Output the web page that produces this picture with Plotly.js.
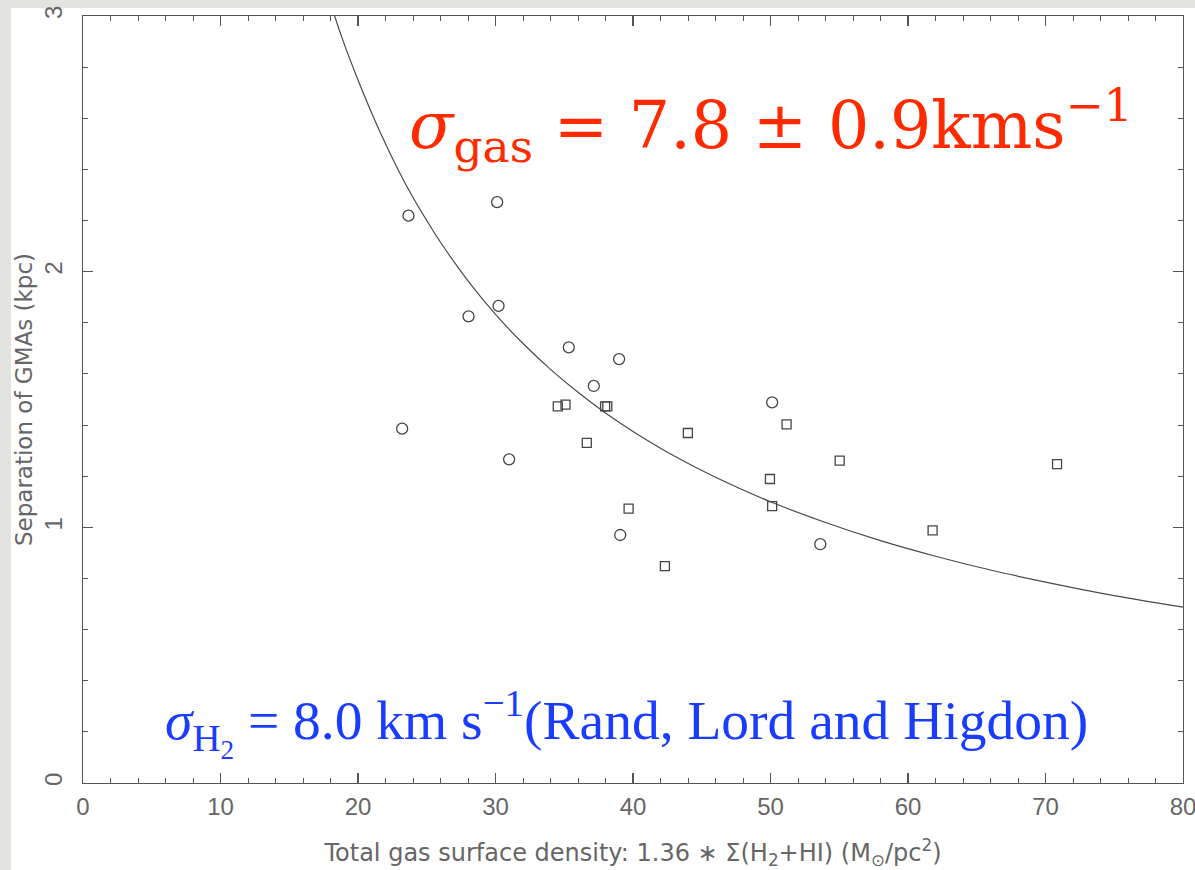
<!DOCTYPE html>
<html>
<head>
<meta charset="utf-8">
<script src="https://cdn.plot.ly/plotly-3.0.1.min.js"></script>
<style>
  html, body { margin: 0; padding: 0; width: 1195px; height: 870px; overflow: hidden; background: #e3e3df; }
  #panel { position: absolute; left: 11px; top: 8px; width: 1184px; height: 862px; background: #ffffff; }
  #chart { position: absolute; left: 11px; top: 0px; width: 1184px; height: 870px; }
</style>
</head>
<body>
<div id="panel"></div>
<div id="chart"></div>
<script>
// Open circles
const circleX = [23.67, 30.12, 28.04, 30.22, 35.33, 38.99, 37.15, 23.21, 30.99, 50.12, 39.07, 53.62];
const circleY = [2.219, 2.272, 1.825, 1.866, 1.704, 1.658, 1.553, 1.386, 1.266, 1.489, 0.970, 0.934];
// Open squares
const squareX = [34.53, 35.09, 37.97, 38.13, 43.99, 36.64, 39.68, 42.32, 51.17, 55.03, 49.96, 50.12, 61.79, 70.84];
const squareY = [1.473, 1.480, 1.473, 1.473, 1.369, 1.330, 1.073, 0.848, 1.403, 1.261, 1.189, 1.083, 0.988, 1.247];
// Fitted curve
const curveX = [17.8, 18.3, 19, 20, 21, 22, 23, 24, 25, 26, 28, 30, 32, 34, 36, 38, 40, 43, 46, 50, 54, 58, 62, 66, 70, 75, 80];
const curveY = [3.09, 3.00, 2.89, 2.75, 2.62, 2.50, 2.39, 2.29, 2.20, 2.115, 1.964, 1.833, 1.719, 1.618, 1.528, 1.447, 1.375, 1.279, 1.196, 1.100, 1.019, 0.948, 0.887, 0.833, 0.786, 0.733, 0.688];

const xTickVals = [0, 10, 20, 30, 40, 50, 60, 70, 80];
const yTickVals = [0, 1, 2, 3];

const axisColor = '#555555';
const tickFont = { family: 'Liberation Sans, Arial, sans-serif', size: 24, color: '#666666' };

const traces = [
  {
    x: curveX, y: curveY, type: 'scatter', mode: 'lines',
    line: { color: '#4a4a4a', width: 1.2, shape: 'spline' },
    hoverinfo: 'skip', showlegend: false
  },
  {
    x: circleX, y: circleY, type: 'scatter', mode: 'markers',
    marker: { symbol: 'circle-open', size: 11, color: '#454545', line: { width: 1.3, color: '#454545' } },
    showlegend: false
  },
  {
    x: squareX, y: squareY, type: 'scatter', mode: 'markers',
    marker: { symbol: 'square-open', size: 9, color: '#454545', line: { width: 1.3, color: '#454545' } },
    showlegend: false
  }
];

const layout = {
  width: 1184, height: 870,
  margin: { l: 72, r: 12, t: 16, b: 87 },
  paper_bgcolor: 'rgba(0,0,0,0)',
  plot_bgcolor: '#ffffff',
  showlegend: false,
  xaxis: {
    range: [0, 80], tickvals: xTickVals, ticktext: xTickVals.map(String),
    showgrid: false, zeroline: false, showline: true, linecolor: axisColor, linewidth: 1.3,
    mirror: 'ticks', ticks: 'inside', ticklen: 10, tickwidth: 1.1, tickcolor: axisColor,
    minor: { dtick: 2, ticks: 'inside', ticklen: 5, tickwidth: 1, tickcolor: axisColor, showgrid: false },
    tickfont: tickFont, ticklabelstandoff: 2, ticklabeloverflow: 'allow',
    title: {
      text: 'Total gas surface density: 1.36 ∗ Σ(H<sub>2</sub>+HI) (M<sub>⊙</sub>/pc<sup>2</sup>)',
      font: { family: 'DejaVu Sans, Verdana, sans-serif', size: 24, color: '#666666' },
      standoff: 26
    }
  },
  yaxis: {
    range: [0, 3], tickvals: yTickVals, ticktext: yTickVals.map(String),
    showgrid: false, zeroline: false, showline: true, linecolor: axisColor, linewidth: 1.3,
    mirror: 'ticks', ticks: 'inside', ticklen: 10, tickwidth: 1.1, tickcolor: axisColor,
    minor: { dtick: 0.2, ticks: 'inside', ticklen: 5, tickwidth: 1, tickcolor: axisColor, showgrid: false },
    tickfont: tickFont, tickangle: -90, ticklabelstandoff: 10, ticklabeloverflow: 'allow',
    title: {
      text: 'Separation of GMAs (kpc)',
      font: { family: 'DejaVu Sans, Verdana, sans-serif', size: 23, color: '#666666' },
      standoff: 14
    }
  },
  annotations: [
    {
      xref: 'x', yref: 'y', x: 50.0, y: 2.57, xanchor: 'center', yanchor: 'middle',
      text: '<i>σ</i><sub>gas</sub> = 7.8 ± 0.9kms<sup>−1</sup>',
      showarrow: false,
      font: { family: 'DejaVu Serif, Liberation Serif, serif', size: 65, color: '#ff2a00' }
    },
    {
      xref: 'x', yref: 'y', x: 39.5, y: 0.235, xanchor: 'center', yanchor: 'middle',
      text: '<i>σ</i><sub>H<sub>2</sub></sub> = 8.0 km s<sup>−1</sup>(Rand, Lord and Higdon)',
      showarrow: false,
      font: { family: 'Liberation Serif, DejaVu Serif, serif', size: 55.5, color: '#1a3cff' }
    }
  ]
};

Plotly.newPlot('chart', traces, layout, { displayModeBar: false, staticPlot: true });
</script>
</body>
</html>
